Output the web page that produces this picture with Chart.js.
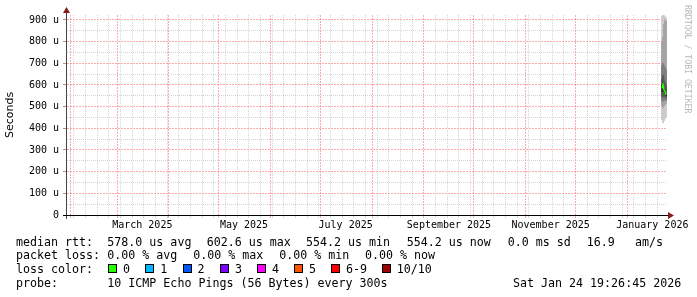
<!DOCTYPE html>
<html>
<head>
<meta charset="utf-8">
<script src="https://cdn.jsdelivr.net/npm/chart.js@4.4.1/dist/chart.umd.min.js"></script>
<style>
  body { margin: 0; background: #fff; }
  #wrap { position: relative; width: 697px; height: 297px; overflow: hidden;
          font-family: "DejaVu Sans Mono", monospace; font-size: 11.65px; color: #000; }
  #chart { position: absolute; left: 0; top: 0; }
  .t { position: absolute; white-space: pre; line-height: 14px; }
  .box { position: absolute; width: 7px; height: 7px; border: 1px solid #000; }
  #brand { position: absolute; left: 683px; top: 5px; writing-mode: vertical-rl;
           font-size: 8.2px; color: #b8b8b8; line-height: 10px; }
</style>
</head>
<body>
<div id="wrap">
  <canvas id="chart" width="697" height="297"></canvas>
  <div id="brand">RRDTOOL / TOBI OETIKER</div>
</div>
<script>
const DAY = 86400000;
const endTime = Date.UTC(2026, 0, 24, 19, 26, 45);
const startTime = endTime - 360 * DAY;

// samples: days before end time, 10 sorted pings each (microseconds)
const sampleDaysAgo = [3.0, 2.4, 1.8, 1.2, 0.6];
const pings = [
  [440, 505, 530, 548, 570, 600, 630, 690, 800, 918],
  [425, 495, 525, 545, 590, 615, 645, 700, 820, 923],
  [435, 505, 530, 550, 570, 586, 625, 690, 880, 920],
  [445, 510, 535, 548, 562, 578, 610, 680, 900, 915],
  [450, 515, 530, 540, 550, 558, 600, 670, 895, 910]
];
const medians = [585, 602.6, 578, 570, 554.2];

const smokeColors = ['#cacaca', '#a4a4a4', '#7e7e7e', '#585858', '#323232'];

// x axis labels (centred mid month, every second month)
const xLabels = ['March 2025', 'May 2025', 'July 2025', 'September 2025', 'November 2025', 'January 2026'];
const xLabelDates = ['2025-03-16', '2025-05-16', '2025-07-16', '2025-09-16', '2025-11-16', '2026-01-16'];

const legendLines = [
  { y: 234.5, parts: [[16, 'median rtt:'], [107.3, '578.0 us avg'], [206.7, '602.6 us max'], [306, '554.2 us min'],
                    [406.7, '554.2 us now'], [507.7, '0.0 ms sd'], [586.7, '16.9'], [635, 'am/s']] },
  { y: 248, parts: [[16, 'packet loss:'], [107.3, '0.00 % avg'], [193.3, '0.00 % max'], [279.3, '0.00 % min'], [365, '0.00 % now']] },
  { y: 262, parts: [[16, 'loss color:']] },
  { y: 275.5, parts: [[16, 'probe:'], [107.3, '10 ICMP Echo Pings (56 Bytes) every 300s'], [513, 'Sat Jan 24 19:26:45 2026']] }
];
const lossLabels = ['0', '1', '2', '3', '4', '5', '6-9', '10/10'];
const lossColors = ['#26ff00', '#00b8ff', '#0059ff', '#7e00ff', '#ff00ff', '#ff5500', '#ff0000', '#a00000'];
const lossBoxX = [108, 145.3, 182.6, 219.9, 257, 294, 331, 381.7];

const wrap = document.getElementById('wrap');
legendLines.forEach(line => {
  line.parts.forEach(([x, txt]) => {
    const d = document.createElement('div');
    d.className = 't';
    d.style.left = x + 'px';
    d.style.top = line.y + 'px';
    d.textContent = txt;
    wrap.appendChild(d);
  });
});
lossLabels.forEach((lab, i) => {
  const b = document.createElement('div');
  b.className = 'box';
  b.style.left = lossBoxX[i] + 'px';
  b.style.top = '264px';
  b.style.background = lossColors[i];
  wrap.appendChild(b);
  const d = document.createElement('div');
  d.className = 't';
  d.style.left = (lossBoxX[i] + 15) + 'px';
  d.style.top = '262px';
  d.textContent = lab;
  wrap.appendChild(d);
});

const sampleTimes = sampleDaysAgo.map(d => endTime - d * DAY);

// x ticks: mondays (minor), month starts (major), label positions
function buildXTicks() {
  const ticks = [];
  let t = new Date(startTime);
  t = Date.UTC(t.getUTCFullYear(), t.getUTCMonth(), t.getUTCDate());
  for (; t <= endTime; t += DAY) {
    const d = new Date(t);
    if (t < startTime) continue;
    if (d.getUTCDate() === 1) ticks.push({ value: t, kind: 'month' });
    else if (d.getUTCDay() === 1) ticks.push({ value: t, kind: 'week' });
  }
  xLabelDates.forEach((s, i) => {
    ticks.push({ value: Date.parse(s + 'T00:00:00Z'), kind: 'label', text: xLabels[i] });
  });
  return ticks.sort((a, b) => a.value - b.value);
}
const xTicks = buildXTicks();

const MGRID = 'rgba(250, 90, 90, 0.5)';
const GRID = 'rgba(165, 165, 165, 0.45)';
const isMajorX = c => c.tick && c.tick.kind === 'month';
const isMajorY = c => c.tick && c.tick.value % 100 === 0;

const datasets = [{
  type: 'line',
  data: sampleTimes.map((t, i) => ({ x: t, y: medians[i] })),
  borderColor: lossColors[0],
  borderWidth: 1.5,
  pointRadius: 0,
  order: 0
}];
for (let k = 4; k >= 0; k--) {
  datasets.push({
    type: 'bar',
    data: sampleTimes.map((t, i) => ({ x: t, y: [pings[i][k], pings[i][9 - k]] })),
    backgroundColor: smokeColors[k],
    borderWidth: 0,
    grouped: false,
    barThickness: 1.1,
    order: 5 - k
  });
}

const yMax = Math.max(...pings.flat());

const axisPlugin = {
  id: 'rrdAxes',
  afterDraw(chart) {
    const { ctx, chartArea: a } = chart;
    ctx.save();
    ctx.fillStyle = '#444';
    ctx.fillRect(a.left - 1, a.top - 5, 1, a.bottom - a.top + 9);
    ctx.fillStyle = '#000';
    ctx.fillRect(a.left - 4, a.bottom, a.right - a.left + 6, 1);
    ctx.fillStyle = '#8b1a1a';
    ctx.beginPath();
    ctx.moveTo(a.left - 0.5, a.top - 8);
    ctx.lineTo(a.left - 4, a.top - 2);
    ctx.lineTo(a.left + 3, a.top - 2);
    ctx.closePath();
    ctx.fill();
    ctx.beginPath();
    ctx.moveTo(a.right + 7, a.bottom + 0.5);
    ctx.lineTo(a.right + 1, a.bottom - 3);
    ctx.lineTo(a.right + 1, a.bottom + 4);
    ctx.closePath();
    ctx.fill();
    ctx.restore();
  }
};

new Chart(document.getElementById('chart'), {
  type: 'line',
  data: { datasets },
  plugins: [axisPlugin],
  options: {
    responsive: false,
    animation: false,
    events: [],
    layout: { padding: { left: 0, right: 30, top: 15, bottom: 60 } },
    plugins: { legend: { display: false }, tooltip: { enabled: false } },
    scales: {
      x: {
        type: 'linear',
        min: startTime,
        max: endTime,
        offset: false,
        afterBuildTicks: s => { s.ticks = xTicks.map(t => Object.assign({}, t)); },
        afterFit: s => { s.height = 22; s.paddingLeft = 0; s.paddingRight = 0; },
        ticks: {
          autoSkip: false, maxRotation: 0, minRotation: 0, padding: 1,
          font: { family: 'DejaVu Sans Mono', size: 10 }, color: '#000',
          callback: (v, i, ticks) => ticks[i].text || ''
        },
        grid: {
          offset: false,
          color: c => isMajorX(c) ? MGRID : (c.tick && c.tick.kind === 'week' ? GRID : 'rgba(0,0,0,0)'),
          lineWidth: 1,
          tickLength: 3
        },
        border: { display: false, dash: c => isMajorX(c) ? [2, 1] : [1, 1] }
      },
      y: {
        type: 'linear',
        min: 0,
        max: yMax,
        afterFit: s => { s.width = 67; s.paddingTop = 0; s.paddingBottom = 0; },
        ticks: {
          stepSize: 50, includeBounds: false, autoSkip: false, padding: 4,
          font: { family: 'DejaVu Sans Mono', size: 10 }, color: '#000',
          callback: v => v % 100 === 0 ? (v === 0 ? '0' : v + ' u') : ''
        },
        grid: {
          color: c => isMajorY(c) ? MGRID : GRID,
          tickColor: c => isMajorY(c) ? '#999' : 'rgba(0,0,0,0)',
          lineWidth: 1,
          tickLength: 4
        },
        border: { display: false, dash: c => isMajorY(c) ? [2, 1] : [1, 1] },
        title: {
          display: true, text: 'Seconds', color: '#000',
          font: { family: 'DejaVu Sans', size: 11 }, padding: { top: 4, bottom: 4 }
        }
      }
    }
  }
});
</script>
</body>
</html>
